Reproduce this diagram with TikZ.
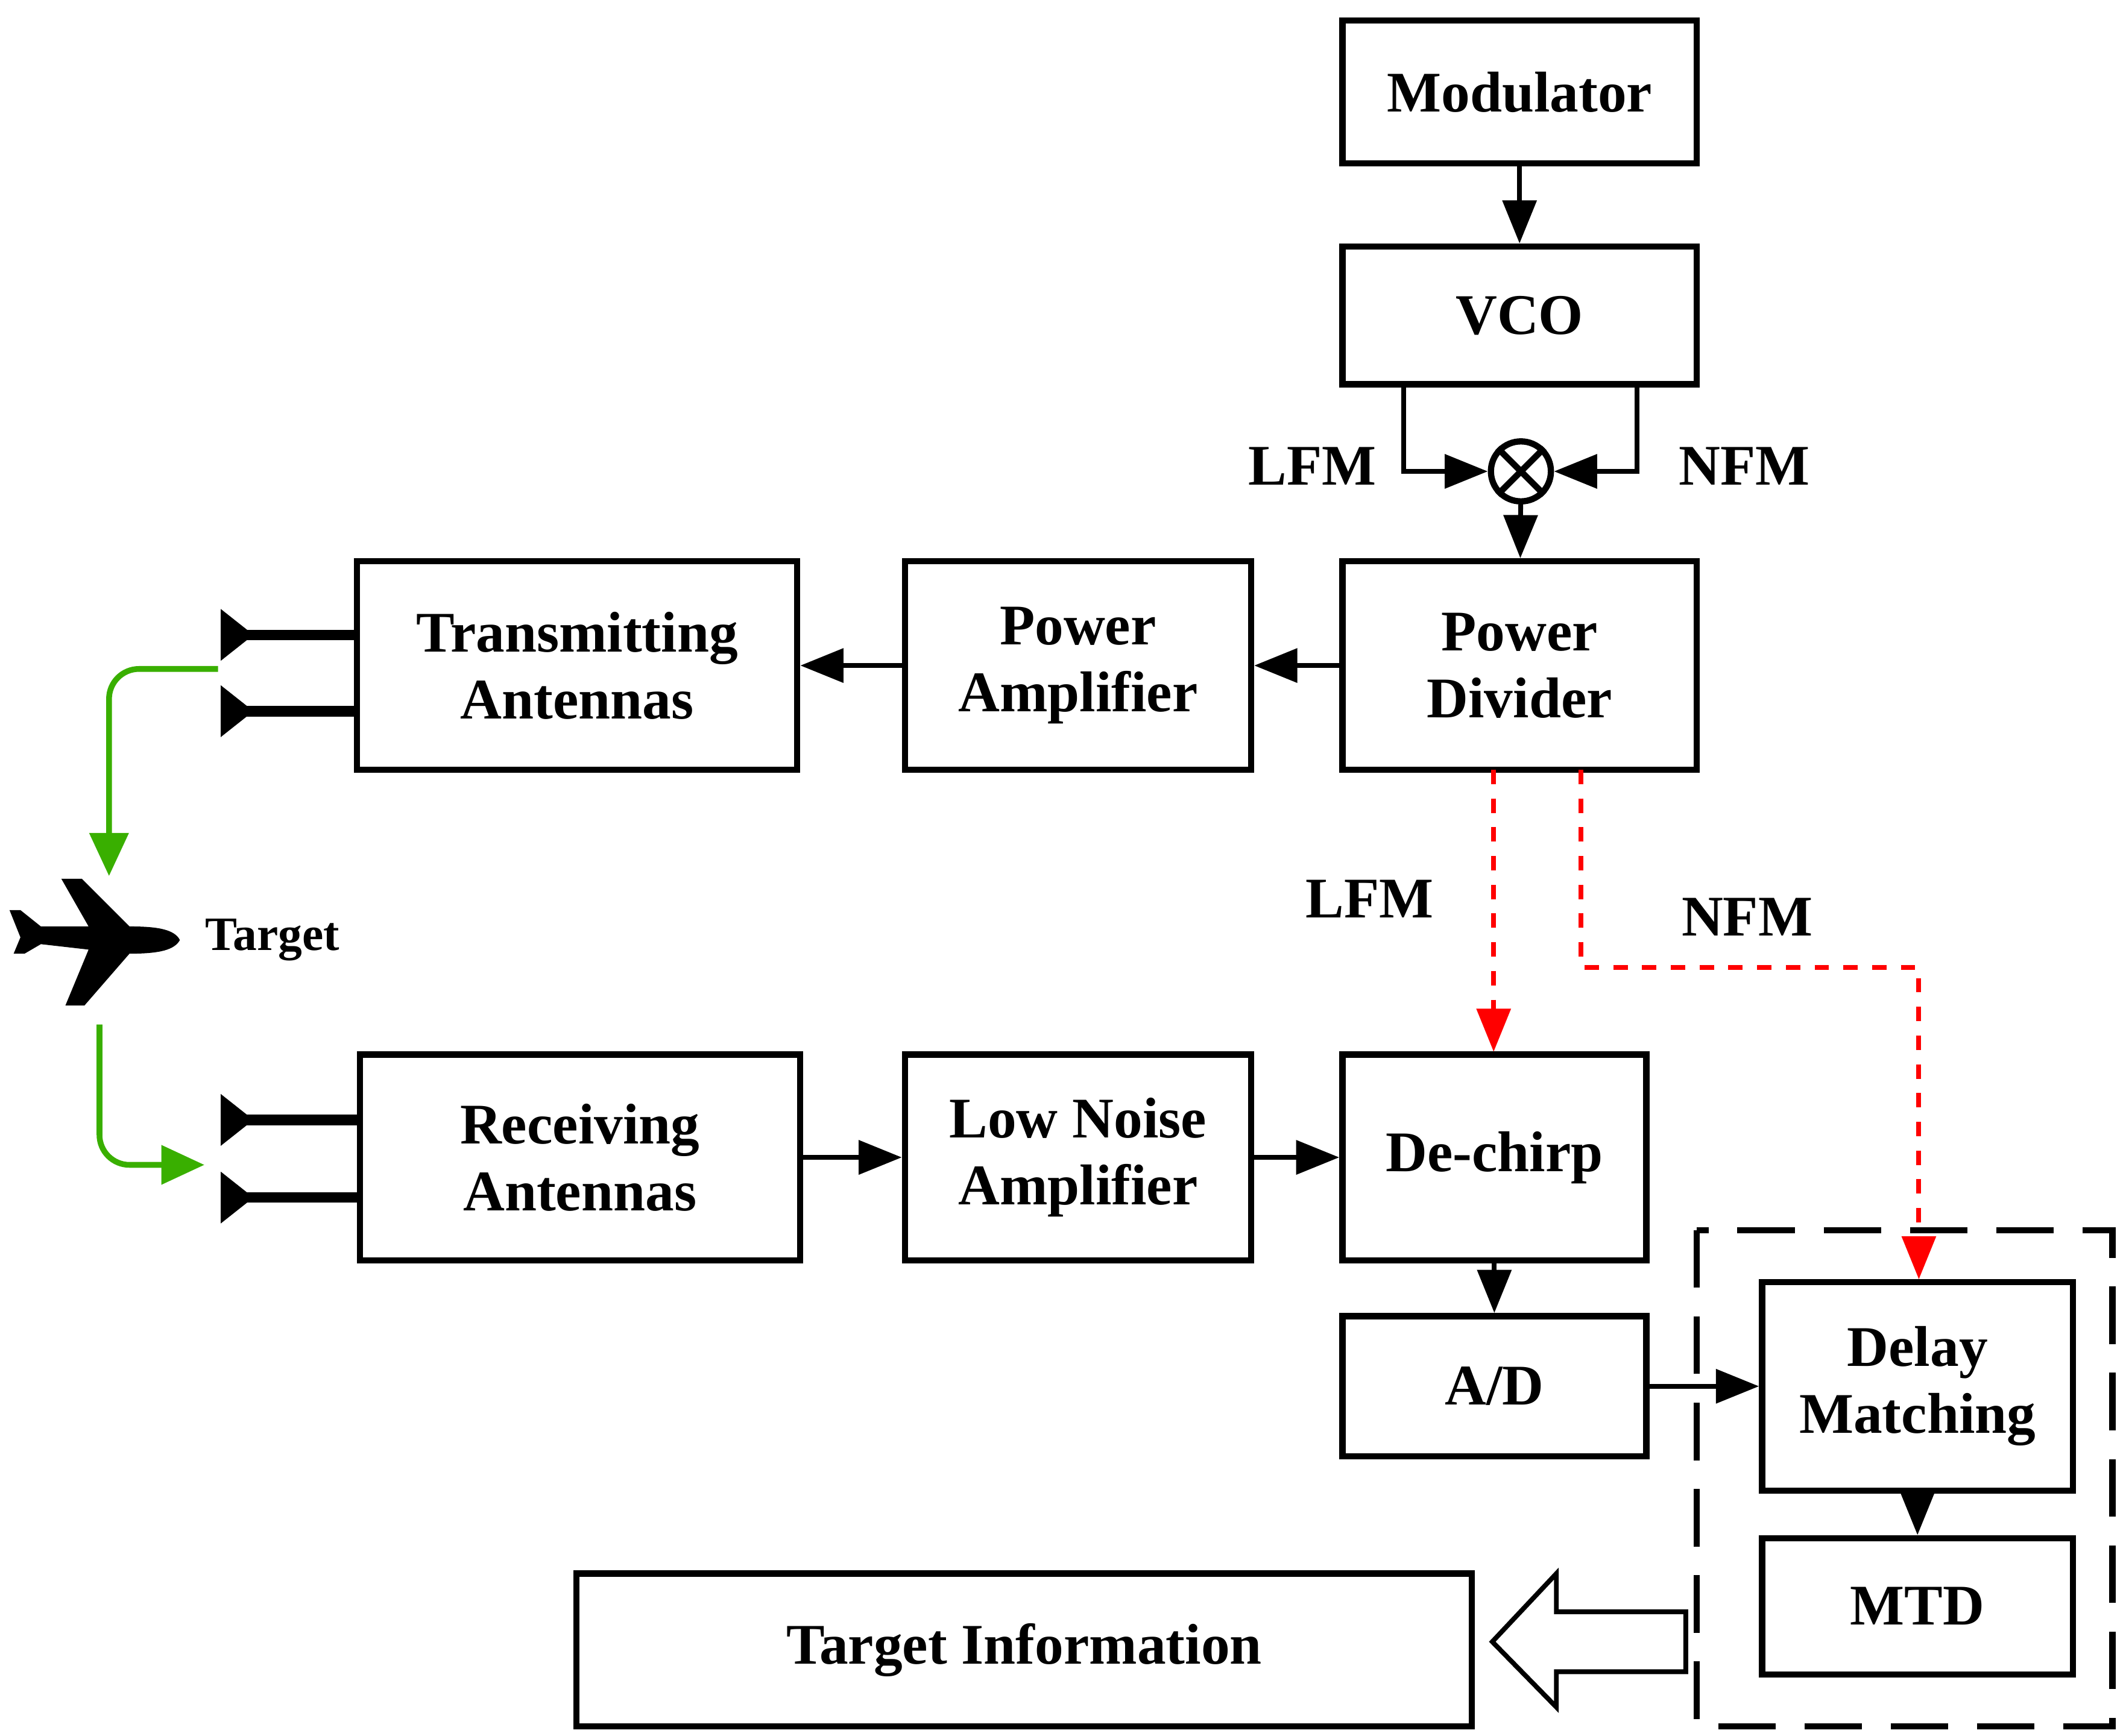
\documentclass[tikz,border=0pt]{standalone}
\usepackage{fontspec}
\setmainfont{Liberation Serif}
\usetikzlibrary{arrows.meta}
\begin{document}
\begin{tikzpicture}[x=0.01cm,y=-0.01cm,
 box/.style={draw,line width=1.3pt,fill=white,font=\bfseries\fontsize{12}{14}\selectfont,align=center,inner sep=0},
 ar/.style={line width=1pt,-{Triangle[length=9pt,width=7pt]}},
 lab/.style={font=\bfseries\fontsize{12}{14}\selectfont},
 red/.style={draw=red,line width=1pt,dashed,-{Triangle[length=9pt,width=7pt]}},
 grn/.style={draw=green!55!black!70!lime,line width=1.2pt,-{Triangle[length=9pt,width=8pt]},rounded corners=0.22cm}]
\useasboundingbox (0,0) rectangle (1560,1274);
\newcommand\bx[6]{\node[box,minimum width={(#4-#2)*0.01cm},minimum height={(#5-#3)*0.01cm}] (#1) at ({(#2+#4)/2},{(#3+#5)/2}) {#6};}
\bx{mod}{985}{15}{1245}{120}{Modulator}
\bx{vco}{985}{181}{1245}{282}{VCO}
\bx{pd}{985}{412}{1245}{565}{Power\\Divider}
\bx{pa}{664}{412}{918}{565}{Power\\Amplifier}
\bx{ta}{262}{412}{585}{565}{Transmitting\\Antennas}
\bx{ra}{264}{774}{587}{925}{Receiving\\Antennas}
\bx{lna}{664}{774}{918}{925}{Low Noise\\Amplifier}
\bx{dc}{985}{774}{1208}{925}{De-chirp}
\bx{ad}{985}{966}{1208}{1069}{A/D}
\bx{dm}{1293}{941}{1521}{1094}{Delay\\Matching}
\bx{mtd}{1293}{1129}{1521}{1229}{MTD}
\bx{ti}{423}{1155}{1080}{1267}{Target Information}
\draw[line width=1.3pt,dash pattern=on 12pt off 6pt] (1245,903) rectangle (1550,1267);
\node[draw,circle,line width=1.3pt,minimum size=0.44cm,inner sep=0] (mx) at (1116,346) {};
\draw[line width=1.3pt] (mx.north west)--(mx.south east) (mx.north east)--(mx.south west);
\draw[ar] (mod)--(vco);
\draw[ar] (1030,282)--(1030,346)--(mx.west);
\draw[ar] (1201,282)--(1201,346)--(mx.east);
\node[lab] at (963,342) {LFM};
\node[lab] at (1280,342) {NFM};
\draw[ar] (mx)--(pd);
\draw[ar] (pd)--(pa);
\draw[ar] (pa)--(ta);
\draw[ar] (ra)--(lna);
\draw[ar] (lna)--(dc);
\draw[ar] (dc)--(ad);
\draw[ar] (ad.east)--(dm.west|-ad.east);
\draw[ar] (dm)--(mtd);
\draw[red] (1096,565)--(1096,772);
\draw[red] (1160,565)--(1160,710)--(1408,710)--(1408,939);
\node[lab] at (1005,660) {LFM};
\node[lab] at (1282,673) {NFM};
% antennas
\foreach \y in {466,522,822,879}{
 \draw[line width=2.2pt] (262,\y)--(180,\y);
 \fill (162,\y-19)--(186,\y)--(162,\y+19)--cycle;}
\draw[grn] (160,491)--(80,491)--(80,643);
\draw[grn] (73,752)--(73,855)--(150,855);
% hollow arrow
\draw[line width=1pt,fill=white] (1237,1183)--(1142,1183)--(1142,1155)--(1095,1205)--(1142,1253)--(1142,1227)--(1237,1227)--cycle;
% airplane
\fill (132,690) .. controls (128,682) and (115,680) .. (95,680)--(60,645)--(45,645)--(65,680)--(30,680)--(15,668)--(7,668)--(15,688)--(10,700)--(18,700)--(30,693)--(65,697)--(48,738)--(62,738)--(95,700) .. controls (118,700) and (128,697) .. cycle;
\node[font=\bfseries\fontsize{10}{12}\selectfont] at (200,690) {Target};
\end{tikzpicture}
\end{document}
